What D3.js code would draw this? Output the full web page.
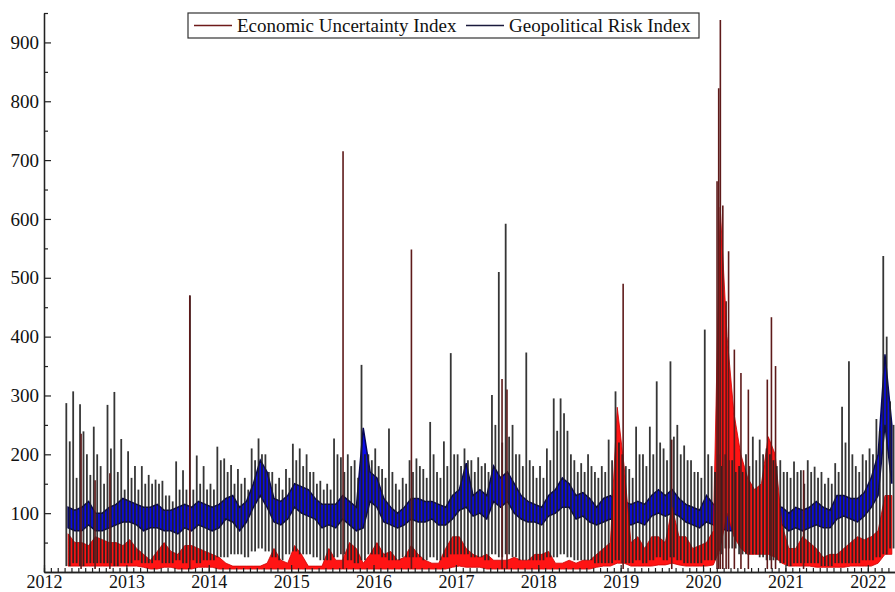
<!DOCTYPE html>
<html>
<head>
<meta charset="utf-8">
<script src="https://cdnjs.cloudflare.com/ajax/libs/d3/7.8.5/d3.min.js"></script>
<style>
  body { margin: 0; background: #fff; }
  text { font-family: "Liberation Serif", "Times New Roman", serif; }
</style>
</head>
<body>
<div id="chart"></div>
<script>
// monthly readings, Apr 2012 .. Apr 2022 (121 months)
var firstMonth = 2012 + 3 / 12;

// geopolitical risk: dense blue core (low / high)
var gprLo = [
  75, 70, 70, 80, 70, 70, 75, 80, 85,                       // 2012
  85, 80, 70, 75, 75, 70, 70, 65, 75, 70, 80, 75,           // 2013
  70, 75, 90, 85, 70, 85, 110, 130, 110, 85, 80, 90,        // 2014
  110, 100, 95, 90, 75, 80, 75, 90, 80, 70, 75, 120,        // 2015
  110, 85, 80, 75, 80, 90, 85, 85, 90, 80, 80, 90,          // 2016
  105, 110, 95, 100, 90, 120, 110, 120, 100, 90, 85, 85,    // 2017
  80, 95, 100, 110, 110, 90, 95, 85, 80, 85, 90, 85,        // 2018
  85, 80, 85, 80, 95, 100, 95, 100, 95, 85, 80, 75,         // 2019
  85, 80, 75, 70, 70, 75, 75, 75, 80, 80, 75, 80,           // 2020
  70, 75, 70, 75, 80, 75, 75, 90, 95, 90, 85, 95,           // 2021
  110, 130, 250, 150                                        // 2022
];
var gprHi = [
  110, 105, 110, 120, 100, 100, 110, 115, 125,
  120, 115, 110, 110, 115, 105, 105, 110, 115, 110, 120, 115,
  110, 115, 125, 130, 110, 120, 150, 190, 170, 125, 120, 130,
  150, 145, 140, 125, 115, 115, 115, 130, 120, 110, 245, 170,
  160, 125, 110, 100, 110, 125, 125, 120, 120, 115, 110, 130,
  140, 185, 130, 140, 130, 180, 160, 170, 150, 130, 120, 115,
  110, 130, 140, 160, 150, 130, 135, 125, 110, 125, 130, 120,
  120, 115, 120, 115, 130, 140, 130, 140, 125, 115, 110, 105,
  130, 115, 110, 105, 105, 110, 110, 110, 120, 120, 110, 110,
  100, 110, 105, 110, 120, 110, 105, 130, 130, 125, 125, 135,
  160, 200, 370, 250
];
// geopolitical risk: daily spikes (first and second half of month) and their floor
var gprTop1 = [
  287, 307, 285, 200, 247, 180, 284, 306, 226,
  205, 180, 180, 165, 157, 155, 130, 188, 173, 470, 198, 180,
  150, 213, 193, 182, 175, 160, 210, 227, 200, 170, 160, 175,
  218, 210, 200, 170, 155, 150, 227, 195, 200, 190, 352, 200,
  210, 175, 244, 150, 160, 190, 193, 175, 255, 170, 222, 372,
  200, 210, 190, 195, 185, 301, 510, 592, 250, 200, 373, 180,
  180, 210, 295, 295, 240, 190, 185, 200, 170, 180, 225, 307,
  200, 175, 247, 200, 247, 324, 210, 358, 250, 215, 190, 170,
  412, 180, 200, 200, 190, 180, 200, 230, 225, 210, 190, 190,
  170, 188, 173, 190, 179, 170, 160, 185, 281, 358, 180, 200,
  210, 260, 537, 290
];
var gprTop2 = [
  222, 160, 239, 165, 200, 150, 210, 170, 140,
  160, 140, 150, 150, 150, 130, 120, 140, 140, 140, 150, 140,
  140, 190, 170, 150, 150, 140, 190, 200, 170, 150, 140, 160,
  190, 180, 170, 150, 140, 140, 200, 170, 180, 160, 200, 190,
  180, 160, 170, 140, 150, 170, 180, 160, 200, 160, 180, 200,
  180, 190, 170, 180, 170, 250, 220, 230, 200, 180, 190, 160,
  160, 190, 240, 270, 200, 170, 170, 180, 160, 170, 190, 220,
  180, 160, 200, 180, 200, 220, 190, 230, 200, 190, 170, 160,
  200, 170, 180, 190, 170, 170, 180, 190, 200, 200, 180, 170,
  160, 170, 150, 170, 160, 150, 150, 170, 220, 200, 170, 190,
  200, 240, 400, 250
];
var gprBot = [
  10, 15, 10, 15, 15, 15, 15, 10, 15,
  15, 20, 15, 15, 20, 15, 15, 20, 15, 20, 15, 20,
  20, 25, 25, 30, 30, 25, 35, 40, 35, 25, 20, 30,
  35, 30, 30, 25, 20, 20, 25, 30, 20, 15, 20, 30,
  30, 25, 20, 20, 25, 25, 25, 20, 25, 20, 25, 30,
  30, 30, 25, 25, 20, 30, 25, 30, 25, 20, 20, 20,
  20, 25, 25, 30, 25, 20, 20, 20, 15, 15, 15, 20,
  15, 15, 20, 15, 20, 25, 20, 25, 20, 15, 15, 15,
  20, 20, 30, 40, 40, 30, 30, 30, 25, 20, 20, 15,
  10, 15, 15, 15, 15, 10, 10, 15, 15, 15, 15, 20,
  20, 25, 30, 40
];

// economic uncertainty: red core (low / high)
var epuLo = [
  10, 10, 10, 10, 10, 10, 10, 10, 10,
  10, 10, 8, 5, 5, 8, 8, 5, 5, 5, 8, 8,
  8, 5, 5, 5, 5, 5, 5, 5, 5, 5, 5, 5,
  5, 5, 5, 5, 5, 5, 5, 5, 5, 5, 5, 5,
  5, 5, 5, 5, 5, 5, 5, 5, 5, 5, 5, 8,
  10, 8, 8, 8, 5, 5, 5, 5, 5, 5, 5, 5,
  5, 5, 5, 5, 5, 5, 5, 5, 8, 10, 10, 15,
  15, 10, 10, 10, 10, 12, 12, 15, 12, 10, 10, 10,
  10, 12, 40, 100, 60, 40, 30, 30, 30, 30, 25, 15,
  10, 10, 10, 10, 8, 8, 8, 8, 8, 10, 10, 10,
  10, 15, 30, 30
];
var epuHi = [
  65, 50, 50, 45, 60, 55, 50, 50, 45,
  55, 40, 30, 20, 35, 50, 35, 30, 45, 45, 40, 35,
  30, 25, 15, 10, 10, 10, 10, 10, 15, 40, 20, 15,
  45, 30, 10, 10, 10, 40, 20, 20, 50, 40, 15, 30,
  50, 30, 35, 20, 25, 45, 30, 20, 15, 15, 40, 60,
  60, 40, 30, 25, 30, 20, 20, 20, 25, 20, 20, 30,
  30, 35, 15, 15, 20, 15, 20, 20, 30, 40, 50, 280,
  180, 50, 60, 40, 60, 60, 50, 110, 60, 60, 40, 45,
  50, 70, 620, 400, 270, 200, 160, 140, 150, 230, 200, 80,
  40, 40, 60, 50, 40, 25, 30, 30, 40, 50, 60, 55,
  60, 70, 130, 130
];
// economic uncertainty: tall single-day spikes
var epuSpikeDate = [2012.45, 2012.62, 2012.80, 2013.77, 2015.63, 2016.46, 2017.56, 2017.62,
  2019.03, 2019.62, 2020.17, 2020.19, 2020.21, 2020.24, 2020.28, 2020.31, 2020.38,
  2020.46, 2020.55, 2020.78, 2020.83, 2020.88, 2021.22];
var epuSpikeVal = [235, 156, 168, 470, 715, 548, 328, 310,
  490, 225, 664, 822, 938, 623, 460, 545, 378,
  338, 310, 327, 433, 350, 173];

var yMajor = [100, 200, 300, 400, 500, 600, 700, 800, 900];
var yMinor = [50, 150, 250, 350, 450, 550, 650, 750, 850, 950];
var years = [2012, 2013, 2014, 2015, 2016, 2017, 2018, 2019, 2020, 2021, 2022];
var seriesNames = ["Economic Uncertainty Index", "Geopolitical Risk Index"];

// set the dimensions and margins of the graph
var margin = { top: 13, right: 0, bottom: 20, left: 44 },
  width = 895 - margin.left - margin.right,
  height = 572 - margin.top;

var svg = d3.select("#chart")
  .append("svg")
  .attr("width", 895)
  .attr("height", 592)
  .append("g")
  .attr("transform", "translate(" + margin.left + "," + margin.top + ")");

var x = d3.scaleLinear().domain([2012, 2022.33]).range([0, width]);
var y = d3.scaleLinear().domain([0, 950]).range([height, 0]);

var idx = d3.range(gprLo.length);
function mid(i) { return firstMonth + (i + 0.5) / 12; }

// blue core of the geopolitical index
svg.append("path")
  .datum(idx)
  .attr("fill", "#0c0ce8")
  .attr("stroke", "#06065a")
  .attr("stroke-width", 1.5)
  .attr("d", d3.area()
    .x(function (i) { return x(mid(i)); })
    .y0(function (i) { return y(gprLo[i]); })
    .y1(function (i) { return y(gprHi[i]); }));

// red core of the economic index
svg.append("path")
  .datum(idx)
  .attr("fill", "#ff1414")
  .attr("stroke", "#d00000")
  .attr("stroke-width", 0.8)
  .attr("d", d3.area()
    .x(function (i) { return x(mid(i)); })
    .y0(function (i) { return y(epuLo[i]); })
    .y1(function (i) { return y(epuHi[i]); }));

// daily spikes of the geopolitical index
var spikes = [];
idx.forEach(function (i) {
  spikes.push({ t: firstMonth + (i + 0.25) / 12, lo: gprBot[i], hi: gprTop1[i] });
  spikes.push({ t: firstMonth + (i + 0.75) / 12, lo: gprBot[i], hi: gprTop2[i] });
});
svg.append("g")
  .selectAll("line")
  .data(spikes)
  .enter()
  .append("line")
  .attr("x1", function (d) { return x(d.t); })
  .attr("x2", function (d) { return x(d.t); })
  .attr("y1", function (d) { return y(d.lo); })
  .attr("y2", function (d) { return y(d.hi); })
  .attr("stroke", "#202020")
  .attr("stroke-opacity", 0.9)
  .attr("stroke-width", 1.8);

// tall spikes of the economic index
svg.append("g")
  .selectAll("line")
  .data(epuSpikeDate)
  .enter()
  .append("line")
  .attr("x1", function (d) { return x(d); })
  .attr("x2", function (d) { return x(d); })
  .attr("y1", y(5))
  .attr("y2", function (d, i) { return y(epuSpikeVal[i]); })
  .attr("stroke", "#5e1a1a")
  .attr("stroke-width", 1.6);

// axes
function styleAxis(g) {
  g.selectAll("path").attr("stroke", "#222").attr("stroke-width", 1.3);
  g.selectAll("line").attr("stroke", "#222").attr("stroke-width", 1.2);
  g.selectAll("text").attr("font-family", "Liberation Serif, serif").attr("font-size", 19).attr("fill", "#111");
}

svg.append("g")
  .call(d3.axisLeft(y).tickValues(yMinor).tickSize(-4).tickSizeOuter(0).tickFormat(""))
  .call(styleAxis);
svg.append("g")
  .call(d3.axisLeft(y).tickValues(yMajor).tickSize(-7).tickSizeOuter(0).tickPadding(5).tickFormat(d3.format("d")))
  .call(styleAxis);

var monthTicks = d3.range(2012, 2022.34, 1 / 12);
svg.append("g")
  .attr("transform", "translate(0," + height + ")")
  .call(d3.axisBottom(x).tickValues(monthTicks).tickSize(-4).tickSizeOuter(0).tickFormat(""))
  .call(styleAxis);
svg.append("g")
  .attr("transform", "translate(0," + height + ")")
  .call(d3.axisBottom(x).tickValues(years).tickSize(-7).tickSizeOuter(0).tickPadding(3).tickFormat(d3.format("d")))
  .call(styleAxis)
  .selectAll("text").attr("font-size", 18);

// legend
var legend = svg.append("g").attr("transform", "translate(" + (188 - margin.left) + "," + (13 - margin.top) + ")");
legend.append("rect")
  .attr("width", 511).attr("height", 25)
  .attr("fill", "#fff").attr("stroke", "#333").attr("stroke-width", 1.2);
var legendColors = ["#6e1a1a", "#1a1a3c"];
var legendX = [6, 278];
seriesNames.forEach(function (name, i) {
  legend.append("line")
    .attr("x1", legendX[i]).attr("x2", legendX[i] + 38)
    .attr("y1", 12.5).attr("y2", 12.5)
    .attr("stroke", legendColors[i]).attr("stroke-width", 1.3);
  legend.append("text")
    .attr("x", legendX[i] + 43).attr("y", 19)
    .attr("font-size", 19).attr("fill", "#111")
    .text(name);
});
</script>
</body>
</html>
